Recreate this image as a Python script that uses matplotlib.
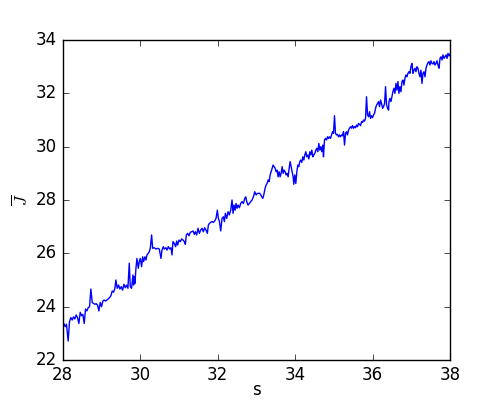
import matplotlib
matplotlib.use("Agg")
import matplotlib.pyplot as plt
import numpy as np

plt.style.use("classic")

# s values (x) and J-bar values (y)
s = [
    28.000, 28.034, 28.069, 28.103, 28.146, 28.181, 28.215, 28.250, 28.284, 28.319,
    28.353, 28.388, 28.422, 28.457, 28.491, 28.525, 28.560, 28.594, 28.629, 28.663,
    28.698, 28.732, 28.767, 28.801, 28.835, 28.870, 28.904, 28.939, 28.973, 29.008,
    29.042, 29.077, 29.111, 29.146, 29.180, 29.214, 29.249, 29.283, 29.318, 29.352,
    29.378, 29.413, 29.447, 29.481, 29.516, 29.550, 29.585, 29.619, 29.654, 29.688,
    29.723, 29.749, 29.783, 29.818, 29.835, 29.852, 29.869, 29.895, 29.921, 29.956,
    29.981, 30.007, 30.042, 30.068, 30.093, 30.128, 30.154, 30.180, 30.214, 30.240,
    30.266, 30.300, 30.326, 30.369, 30.412, 30.455, 30.498, 30.541, 30.567, 30.602,
    30.627, 30.671, 30.696, 30.731, 30.765, 30.800, 30.826, 30.851, 30.886, 30.920,
    30.946, 30.972, 31.006, 31.041, 31.075, 31.110, 31.144, 31.170, 31.196, 31.230,
    31.265, 31.299, 31.334, 31.368, 31.403,
    31.428, 31.462, 31.497, 31.531, 31.566, 31.600, 31.635, 31.669, 31.704, 31.738,
    31.764, 31.790, 31.824, 31.859, 31.893, 31.927, 31.962, 31.996, 32.022, 32.048,
    32.083, 32.117, 32.151, 32.177, 32.203, 32.238, 32.272, 32.306, 32.341, 32.375,
    32.401, 32.427, 32.453, 32.479, 32.505, 32.530, 32.565, 32.599, 32.634, 32.668,
    32.703, 32.729, 32.754, 32.789, 32.823, 32.858, 32.892, 32.927, 32.961, 32.996,
    33.030, 33.065,
    33.091, 33.117, 33.142, 33.168, 33.194, 33.228, 33.254, 33.280, 33.306, 33.332,
    33.358, 33.384, 33.409, 33.435, 33.461, 33.487, 33.513, 33.539, 33.564, 33.590,
    33.616, 33.642, 33.668, 33.694, 33.719, 33.745, 33.771, 33.797, 33.823, 33.849,
    33.874, 33.900, 33.926, 33.952, 33.969, 33.995, 34.021, 34.047, 34.073, 34.098,
    34.124, 34.150, 34.176, 34.202, 34.228, 34.253, 34.279, 34.305, 34.331, 34.357,
    34.383, 34.408, 34.434, 34.460, 34.486, 34.512, 34.538, 34.563, 34.589, 34.615,
    34.641, 34.667, 34.693, 34.718,
    34.735, 34.761, 34.787, 34.813, 34.839, 34.864, 34.890, 34.916, 34.942, 34.968,
    34.994, 35.019, 35.045, 35.071, 35.097, 35.123, 35.149, 35.175, 35.200, 35.226,
    35.252, 35.278, 35.304, 35.330, 35.355, 35.381, 35.407, 35.433, 35.459, 35.485,
    35.510, 35.536, 35.562, 35.588, 35.614, 35.640, 35.665, 35.691, 35.717, 35.743,
    35.769, 35.795, 35.820, 35.846, 35.872, 35.898, 35.924, 35.950, 35.975, 36.001,
    36.027, 36.053, 36.079, 36.105, 36.131, 36.156, 36.182, 36.208, 36.234, 36.260,
    36.286, 36.311, 36.337, 36.363, 36.389, 36.415,
    36.424, 36.450, 36.476, 36.501, 36.527, 36.553, 36.579, 36.605, 36.631, 36.656,
    36.682, 36.708, 36.734, 36.760, 36.786, 36.811, 36.837, 36.863, 36.889, 36.915,
    36.941, 36.966, 36.992, 37.018, 37.044, 37.070, 37.096, 37.121, 37.147, 37.173,
    37.199, 37.225, 37.251, 37.277, 37.302, 37.328, 37.354, 37.380, 37.406, 37.432,
    37.457, 37.483, 37.509, 37.535, 37.561, 37.587, 37.612, 37.638, 37.664, 37.690,
    37.716, 37.742, 37.767, 37.793, 37.819, 37.845, 37.871, 37.897, 37.923, 37.948,
    37.974, 38.000,
]

J_bar = [
    23.31, 23.37, 23.25, 23.34, 22.71, 23.44, 23.59, 23.50, 23.62, 23.54,
    23.69, 23.59, 23.37, 23.79, 23.66, 23.71, 23.37, 23.91, 23.84, 23.96,
    24.00, 24.66, 24.16, 24.12, 24.09, 24.11, 24.06, 23.84, 24.16, 24.00,
    24.21, 24.25, 24.21, 24.25, 24.29, 24.34, 24.41, 24.59, 24.54, 24.69,
    25.00, 24.69, 24.81, 24.66, 24.75, 24.62, 24.84, 24.71, 24.81, 24.69,
    25.63, 24.75, 24.69, 25.19, 24.81, 25.12, 24.87, 25.44, 25.81, 25.44,
    25.69, 25.81, 25.50, 25.87, 25.69, 25.87, 25.75, 25.94, 26.00, 26.06,
    26.19, 26.69, 26.19, 26.21, 26.16, 26.19, 26.16, 25.81, 26.12, 26.25,
    26.16, 26.21, 26.12, 26.25, 26.16, 26.21, 25.94, 26.44, 26.37, 26.25,
    26.46, 26.31, 26.50, 26.44, 26.54, 26.50, 26.44, 26.34, 26.69, 26.75,
    26.66, 26.79, 26.81, 26.84, 26.71,
    26.81, 26.69, 26.94, 26.75, 26.87, 26.94, 26.81, 26.96, 26.87, 26.75,
    27.06, 27.12, 27.16, 27.19, 27.16, 27.21, 27.31, 27.62, 27.31, 27.21,
    26.84, 27.31, 27.37, 27.19, 27.50, 27.31, 27.56, 27.44, 27.62, 28.00,
    27.50, 27.81, 27.62, 27.87, 27.69, 27.81, 27.71, 27.87, 27.94, 27.87,
    28.06, 28.12, 27.94, 27.81, 27.87, 27.94, 28.00, 28.12, 28.31, 28.19,
    28.25, 28.25,
    28.25, 28.19, 28.12, 28.06, 28.19, 28.44, 28.56, 28.62, 28.75, 28.69,
    28.94, 29.06, 29.19, 29.31, 29.25, 29.19, 29.06, 29.12, 28.87, 29.06,
    28.87, 29.00, 29.25, 29.00, 29.12, 29.06, 28.94, 29.00, 28.87, 29.19,
    29.44, 29.25, 29.06, 28.87, 28.59, 28.94, 28.62, 29.06, 29.31, 29.25,
    29.44, 29.50, 29.41, 29.62, 29.50, 29.69, 29.81, 29.62, 29.69, 29.54,
    29.81, 29.69, 29.87, 29.62, 29.69, 29.75, 29.87, 29.94, 29.81, 30.12,
    29.87, 30.00, 29.81, 30.06,
    29.62, 30.25, 30.31, 30.25, 30.37, 30.31, 30.37, 30.31, 30.44, 30.56,
    30.50, 31.16, 30.50, 30.44, 30.46, 30.37, 30.44, 30.37, 30.44, 30.41,
    30.56, 30.06, 30.50, 30.56, 30.44, 30.62, 30.69, 30.75, 30.69, 30.79,
    30.69, 30.75, 30.71, 30.81, 30.75, 30.87, 30.84, 30.79, 30.94, 30.91,
    31.00, 30.96, 31.06, 31.87, 31.19, 31.12, 31.31, 31.06, 31.16, 31.09,
    31.19, 31.25, 31.44, 31.56, 31.62, 31.69, 31.50, 31.75, 31.62, 31.44,
    31.50, 31.62, 32.25, 31.56, 31.44, 31.37,
    31.69, 31.81, 31.69, 31.87, 32.06, 32.19, 32.00, 32.37, 32.12, 32.44,
    32.00, 32.25, 32.06, 32.44, 32.50, 32.31, 32.56, 32.69, 32.62, 32.75,
    32.81, 32.75, 33.00, 33.12, 32.75, 32.87, 32.94, 32.81, 33.00, 32.94,
    32.75, 32.62, 32.87, 32.37, 32.75, 32.81, 32.62, 32.94, 33.06, 33.15,
    33.19, 33.06, 33.22, 33.12, 33.10, 33.19, 33.06, 33.12, 33.22, 33.06,
    32.94, 33.31, 33.37, 33.25, 33.44, 33.31, 33.37, 33.44, 33.31, 33.50,
    33.40, 33.47,
]

fig = plt.figure(figsize=(5, 4), dpi=100, facecolor="white")
ax = fig.add_subplot(111)
ax.plot(s, J_bar, color="b", linewidth=1.0)
ax.set_xlim(28, 38)
ax.set_ylim(22, 34)
ax.set_xlabel("s", labelpad=-2)
ax.set_ylabel(r"$\overline{J}$", labelpad=3)
fig.savefig("out.png", dpi=100, facecolor="white")
